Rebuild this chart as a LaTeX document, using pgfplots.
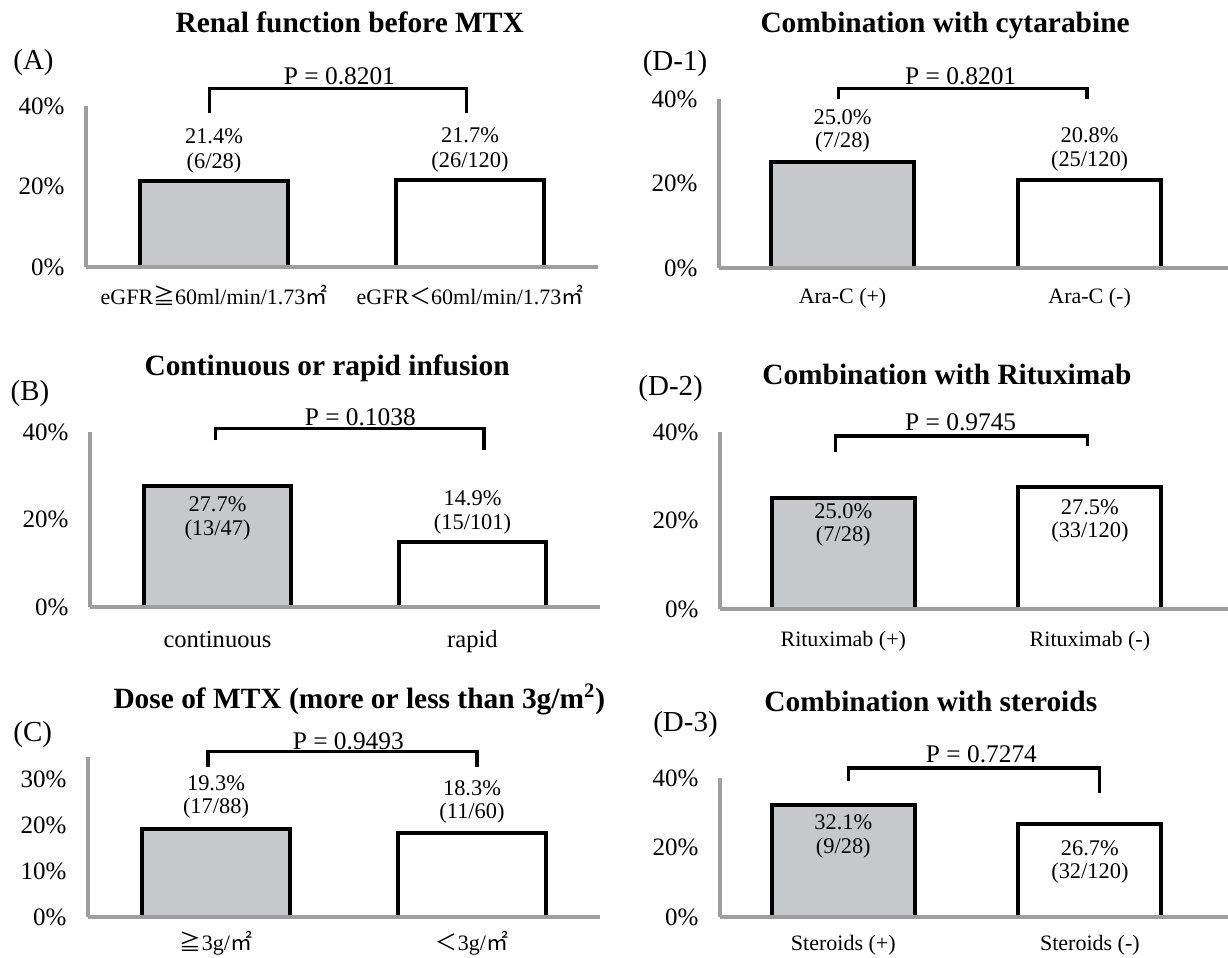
\documentclass[border=0pt]{standalone}
\usepackage{fontspec}
\setmainfont{Liberation Serif}
\newfontfamily\cjk{Noto Sans CJK JP}
\usepackage{pgfplots}
\pgfplotsset{compat=1.18}
\definecolor{axisgray}{RGB}{158,158,160}
\definecolor{barfill}{RGB}{199,200,202}
\newcommand{\fs}[1]{\fontsize{#1}{#1}\selectfont}
\newcommand{\JGE}{{\cjk ≧}}
\newcommand{\JLT}{{\cjk ＜}}
\newcommand{\MSQ}{{\cjk ㎡}}
\newcommand{\blab}[5]{%
  \node[font=\fs{11.2}] at (axis cs:#1,#2) {#4};
  \node[font=\fs{11.2}] at (axis cs:#1,#3) {#5};}
\newcommand{\brk}[5]{% x1 x2 ytop yleft yright
  \draw[line width=1.7pt, line cap=butt] (axis cs:#1,#4) -- (axis cs:#1,#3) -- (axis cs:#2,#3) -- (axis cs:#2,#5);}
\pgfplotsset{
  panel/.style={
    scale only axis, clip=false, axis on top,
    anchor=south west,
    axis x line=bottom, axis y line=left,
    axis line style={-, draw=axisgray, line width=2.2pt},
    xmin=-0.5, ymin=0,
    xtick={0,1},
    major tick length=0pt,
    ybar, bar width=0.58,
    ytick={0,20,40}, yticklabels={0\%,20\%,40\%},
    yticklabel style={font=\fs{12.5}, anchor=east, xshift=-7.3pt},
    xticklabel style={font=\fs{11}, anchor=base},
  },
  gbar/.style={fill=barfill, draw=black, line width=2pt, bar shift=0pt},
  wbar/.style={fill=white, draw=black, line width=2pt, bar shift=0pt},
}
\begin{document}
\begin{tikzpicture}
\useasboundingbox (0pt,0pt) rectangle (614pt,479pt);
% ---------------- (A)
\begin{axis}[panel, at={(43pt,345.5pt)}, width=256pt, height=80.5pt,
  xmax=1.5, ymax=40,
  xticklabels={{eGFR\JGE60ml/min/1.73\MSQ},{eGFR\JLT60ml/min/1.73\MSQ}},
  xticklabel style={yshift=-19pt}]
\addplot[gbar] coordinates {(0,21.4)};
\addplot[wbar] coordinates {(1,21.7)};
\node[font=\fs{14.7}\bfseries] at (axis cs:0.53,60.9) {Renal function before MTX};
\node[font=\fs{14.5}] at (axis cs:-0.705,50.7) {(A)};
\node[font=\fs{12.7}] at (axis cs:0.49,47.3) {P = 0.8201};
\brk{-0.017}{0.986}{44.4}{38.2}{38.2}
\blab{0}{32.5}{25.9}{21.4\%}{(6/28)}
\blab{1}{32.8}{26.1}{21.7\%}{(26/120)}
\end{axis}
% ---------------- (B)
\begin{axis}[panel, at={(45pt,175.5pt)}, width=255pt, height=87.5pt,
  xmax=1.5, ymax=40,
  xticklabels={continuous,rapid},
  xticklabel style={font=\fs{12.3}, yshift=-20.5pt}]
\addplot[gbar] coordinates {(0,27.7)};
\addplot[wbar] coordinates {(1,14.9)};
\node[font=\fs{14.7}\bfseries] at (axis cs:0.43,54.5) {Continuous or rapid infusion};
\node[font=\fs{14.5}] at (axis cs:-0.735,48.8) {(B)};
\node[font=\fs{12.7}] at (axis cs:0.56,43.4) {P = 0.1038};
\brk{-0.007}{1.045}{40.8}{38.1}{35.8}
\blab{0}{23.6}{17.5}{27.7\%}{(13/47)}
\blab{1}{24.8}{19.0}{14.9\%}{(15/101)}
\end{axis}
% ---------------- (C)
\begin{axis}[panel, at={(44pt,20.5pt)}, width=256pt, height=80pt,
  xmax=1.5, ymax=35, ytick={0,10,20,30}, yticklabels={0\%,10\%,20\%,30\%},
  xticklabels={{\JGE3g/\MSQ},{\JLT3g/\MSQ}},
  xticklabel style={yshift=-17pt}]
\addplot[gbar] coordinates {(0,19.3)};
\addplot[wbar] coordinates {(1,18.3)};
\node[font=\fs{14.7}\bfseries] at (axis cs:0.56,47.6) {Dose of MTX (more or less than 3g/m\textsuperscript{2})};
\node[font=\fs{14.5}] at (axis cs:-0.716,39.9) {(C)};
\node[font=\fs{12.7}] at (axis cs:0.517,38.4) {P = 0.9493};
\brk{-0.032}{1.02}{36.2}{32.9}{32.9}
\blab{0}{29.3}{23.8}{19.3\%}{(17/88)}
\blab{1}{28.2}{22.8}{18.3\%}{(11/60)}
\end{axis}
% ---------------- (D-1)
\begin{axis}[panel, at={(359.5pt,345pt)}, width=254.5pt, height=84.5pt,
  xmax=1.56, ymax=40,
  xticklabels={Ara-C (+),Ara-C (-)},
  xticklabel style={yshift=-18pt}]
\addplot[gbar] coordinates {(0,25.0)};
\addplot[wbar] coordinates {(1,20.8)};
\node[font=\fs{14.7}\bfseries] at (axis cs:0.415,57.5) {Combination with cytarabine};
\node[font=\fs{14.5}] at (axis cs:-0.678,48.4) {(D-1)};
\node[font=\fs{12.7}] at (axis cs:0.478,45.4) {P = 0.8201};
\brk{-0.016}{0.99}{42.5}{39.9}{39.9}
\blab{0}{35.8}{29.9}{25.0\%}{(7/28)}
\blab{1}{31.5}{25.2}{20.8\%}{(25/120)}
\end{axis}
% ---------------- (D-2)
\begin{axis}[panel, at={(360pt,174.5pt)}, width=254pt, height=88.5pt,
  xmax=1.56, ymax=40,
  xticklabels={Rituximab (+),Rituximab (-)},
  xticklabel style={yshift=-19pt}]
\addplot[gbar] coordinates {(0,25.0)};
\addplot[wbar] coordinates {(1,27.5)};
\node[font=\fs{14.7}\bfseries] at (axis cs:0.42,53.1) {Combination with Rituximab};
\node[font=\fs{14.5}] at (axis cs:-0.70,49.8) {(D-2)};
\node[font=\fs{12.7}] at (axis cs:0.476,42.3) {P = 0.9745};
\brk{-0.031}{0.99}{39.1}{35.5}{36.8}
\blab{0}{22.0}{16.4}{25.0\%}{(7/28)}
\blab{1}{23.0}{17.3}{27.5\%}{(33/120)}
\end{axis}
% ---------------- (D-3)
\begin{axis}[panel, at={(360pt,20.5pt)}, width=254pt, height=69.5pt,
  xmax=1.56, ymax=40,
  xticklabels={Steroids (+),Steroids (-)},
  xticklabel style={yshift=-17pt}]
\addplot[gbar] coordinates {(0,32.1)};
\addplot[wbar] coordinates {(1,26.7)};
\node[font=\fs{14.7}\bfseries] at (axis cs:0.355,62.1) {Combination with steroids};
\node[font=\fs{14.5}] at (axis cs:-0.64,55.3) {(D-3)};
\node[font=\fs{12.7}] at (axis cs:0.56,46.7) {P = 0.7274};
\brk{0.02}{1.04}{42.9}{39.0}{35.7}
\blab{0}{27.2}{19.9}{32.1\%}{(9/28)}
\blab{1}{19.9}{12.7}{26.7\%}{(32/120)}
\end{axis}
\end{tikzpicture}
\end{document}
